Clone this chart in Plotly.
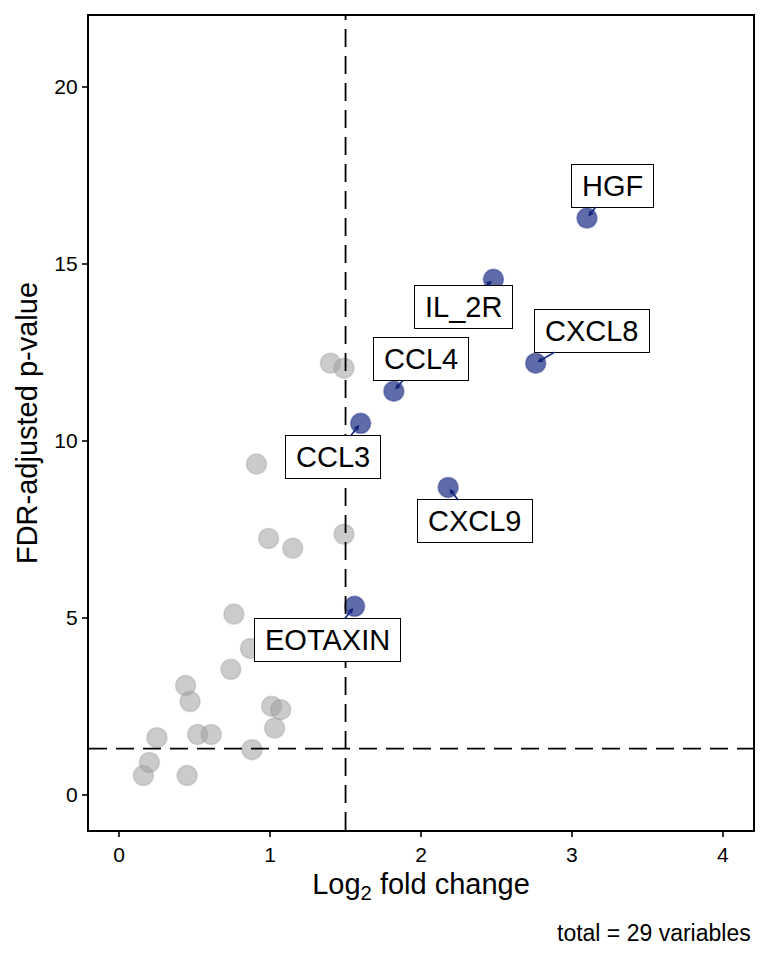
import plotly.graph_objects as go

# volcano plot values (log2 fold change, -log10 FDR)
grey_fc = [0.16, 0.20, 0.25, 0.45, 0.44, 0.47, 0.52, 0.61, 0.74, 0.76, 0.88,
           0.87, 1.01, 1.07, 1.03, 1.40, 1.49, 0.91, 0.99, 1.15, 1.49]
grey_p = [0.54, 0.91, 1.61, 0.54, 3.08, 2.63, 1.70, 1.70, 3.54, 5.10, 1.27,
          4.13, 2.50, 2.40, 1.88, 12.19, 12.05, 9.34, 7.24, 6.96, 7.36]

sig_names = ["EOTAXIN", "CCL3", "CXCL9", "CCL4", "CXCL8", "IL_2R", "HGF"]
sig_fc = [1.56, 1.60, 2.18, 1.82, 2.76, 2.48, 3.10]
sig_p = [5.32, 10.49, 8.68, 11.40, 12.19, 14.56, 16.29]

# where ggrepel put the labels
label_fc = [1.38, 1.42, 2.36, 2.00, 3.13, 2.28, 3.27]
label_p = [4.36, 9.53, 7.72, 12.31, 13.11, 13.79, 17.21]

fc_cut = 1.5
p_cut = 1.301

navy = "#15267F"

fig = go.Figure()

fig.add_trace(go.Scatter(
    x=grey_fc, y=grey_p, mode="markers",
    marker=dict(size=20, color="rgba(160,160,160,0.55)",
                line=dict(color="rgba(150,150,150,0.35)", width=1.5)),
    hoverinfo="x+y", showlegend=False,
))
fig.add_trace(go.Scatter(
    x=sig_fc, y=sig_p, mode="markers", text=sig_names,
    marker=dict(size=20, color="rgba(21,38,128,0.68)",
                line=dict(color="rgba(21,38,128,0.4)", width=1.5)),
    hoverinfo="text+x+y", showlegend=False,
))

# threshold lines
fig.add_vline(x=fc_cut, line=dict(color="black", width=1.8, dash="18px,9px"))
fig.add_hline(y=p_cut, line=dict(color="black", width=1.8, dash="18px,9px"))

pad = "<span style='font-size:18px'>&nbsp;</span>"
for name, x, y, lx, ly in zip(sig_names, sig_fc, sig_p, label_fc, label_p):
    fig.add_annotation(
        x=x, y=y, ax=lx, ay=ly, axref="x", ayref="y", text=pad + name + pad,
        showarrow=True, arrowhead=2, arrowsize=0.7, arrowwidth=1.6,
        arrowcolor=navy, standoff=2,
        font=dict(size=29, color="black", family="Liberation Sans, Arial"),
        bgcolor="white", bordercolor="black", borderwidth=1, borderpad=5,
    )

fig.add_annotation(
    text="total = 29 variables", xref="paper", yref="paper",
    x=1.0, y=-0.127, xanchor="right", yanchor="middle", showarrow=False,
    font=dict(size=23, color="black"),
)

fig.update_xaxes(
    range=[-0.2, 4.2], tickvals=[0, 1, 2, 3, 4], showgrid=False, zeroline=False,
    showline=True, linecolor="black", linewidth=2.2, mirror=True,
    ticks="outside", ticklen=5, tickwidth=1.5, tickcolor="#333",
    tickfont=dict(size=21, color="black"),
    title=dict(text="Log<sub>2</sub> fold change", font=dict(size=29, color="black"), standoff=8),
)
fig.update_yaxes(
    range=[-1, 22], tickvals=[0, 5, 10, 15, 20], showgrid=False, zeroline=False,
    showline=True, linecolor="black", linewidth=2.2, mirror=True,
    ticks="outside", ticklen=5, tickwidth=1.5, tickcolor="#333",
    tickfont=dict(size=21, color="black"),
    title=dict(text="FDR-adjusted p-value", font=dict(size=29, color="black"), standoff=8),
)

fig.update_layout(
    width=768, height=960,
    margin=dict(l=81, r=23, t=6, b=138),
    paper_bgcolor="white", plot_bgcolor="white",
    font=dict(family="Liberation Sans, Arial, sans-serif"),
)

fig.write_html("out.html")
